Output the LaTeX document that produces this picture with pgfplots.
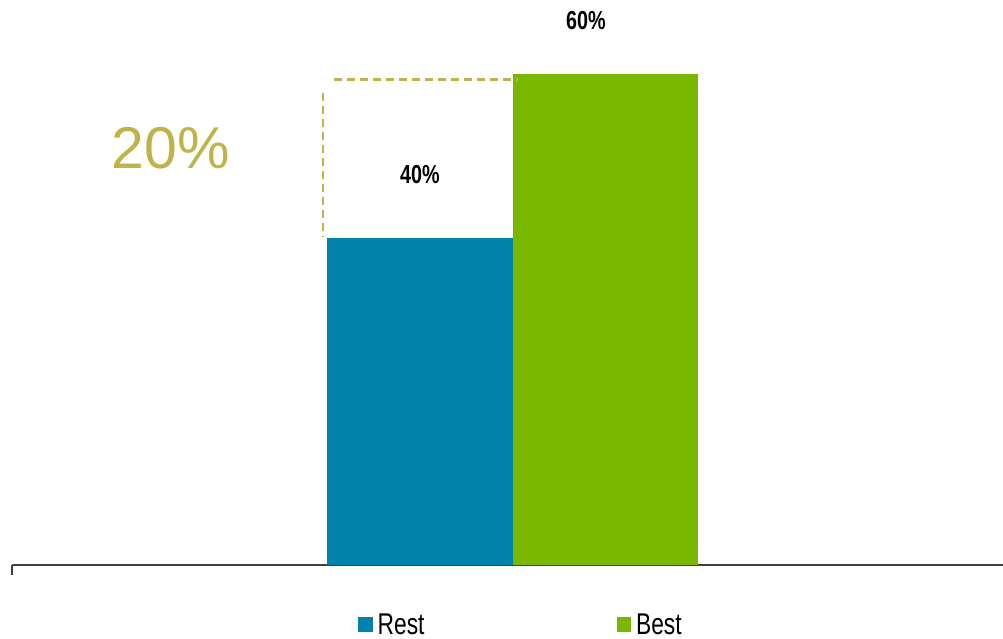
\documentclass[border=0pt]{standalone}
\usepackage{pgfplots}
\pgfplotsset{compat=1.18}
\usepackage{fontspec}
\setmainfont{Liberation Sans}[FakeStretch=0.76]
\newfontfamily\widefont{Liberation Sans}
\definecolor{restc}{HTML}{0082AA}
\definecolor{bestc}{HTML}{7AB800}
\definecolor{olivec}{HTML}{BFB44A}
\definecolor{axisc}{HTML}{404040}
\begin{document}
\begin{tikzpicture}
\path[use as bounding box] (0,0) rectangle (1003bp,639bp);
\begin{axis}[
  at={(12bp,74bp)}, anchor=south west,
  scale only axis, width=991bp, height=565bp,
  xmin=12, xmax=1003, ymin=0, ymax=69.07,
  clip=false,
  hide y axis,
  axis x line*=bottom,
  axis line style={axisc, line width=1.5bp, -},
  xtick={12}, xticklabels={},
  tick align=outside, major tick length=10bp,
  tick style={axisc, line width=1.5bp},
  ybar, bar width=186bp, bar shift=0pt,
  legend columns=2,
  legend style={at={(axis cs:358,-7.33)}, anchor=west, draw=none, fill=none,
    inner sep=0pt, font=\fontsize{30bp}{32bp}\selectfont,
    nodes={inner sep=0pt},
    /tikz/every odd column/.append style={column sep=5bp},
    /tikz/every even column/.append style={column sep=192bp}},
  legend image code/.code={\fill[#1] (0bp,-7.5bp) rectangle (14.5bp,7.5bp);},
]
\addplot[fill=restc, draw=none] coordinates {(420,40)};
\addlegendentry{Rest}
\addplot[fill=bestc, draw=none, bar width=185bp] coordinates {(605.5,60)};
\addlegendentry{Best}
\draw[olivec, line width=2.4bp, dash pattern=on 8bp off 5bp] (axis cs:334,59.35) -- (axis cs:518,59.35);
\draw[olivec, line width=2.4bp, dash pattern=on 8bp off 5bp] (axis cs:323,57.7) -- (axis cs:323,40.2);
\node[font=\fontsize{26bp}{28bp}\selectfont\bfseries] at (axis cs:420,47.7) {40\%};
\node[font=\fontsize{26bp}{28bp}\selectfont\bfseries] at (axis cs:586,66.5) {60\%};
\node[text=olivec, font=\widefont\fontsize{59bp}{64bp}\selectfont] at (axis cs:171,51.0) {20\%};
\end{axis}
\end{tikzpicture}
\end{document}
